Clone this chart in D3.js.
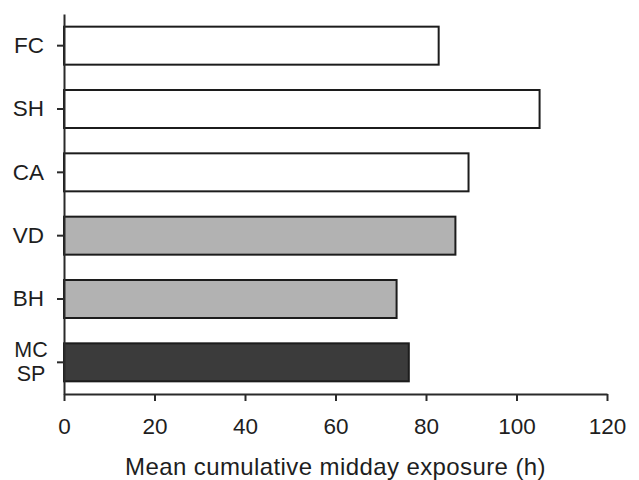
<!DOCTYPE html>
<html>
<head>
<meta charset="utf-8">
<script src="https://cdn.jsdelivr.net/npm/d3@7"></script>
<style>
    body { margin: 0; background: #fff; }
    .chart text { font-family: "Liberation Sans", Arial, Helvetica, sans-serif; fill: #1e1e1e; }
</style>
</head>
<body>
<div id="chart"></div>
<script>
// site codes, bottom group is a two-line label
var sites = ["FC", "SH", "CA", "VD", "BH", "MC\nSP"];
var exposure = [82.8, 105.1, 89.4, 86.5, 73.5, 76.2];
var groups = ["open", "open", "open", "mid", "mid", "dark"];
var xTicks = [0, 20, 40, 60, 80, 100, 120];
var xTitle = "Mean cumulative midday exposure (h)";

(function () {
    'use strict';
    var width = 639, height = 480,
        margin = {top: 14, right: 32, bottom: 86, left: 64},
        w = width - margin.left - margin.right,
        h = height - margin.top - margin.bottom,
        fills = {open: "#ffffff", mid: "#b2b2b2", dark: "#3b3b3b"},
        data, svg, g, x, y, xAxis, yAxis;

    data = sites.map(function (s, i) {
        return {site: s, value: exposure[i], group: groups[i]};
    });

    svg = d3.select("#chart").append("svg")
        .attr("class", "chart")
        .attr("width", width)
        .attr("height", height);

    g = svg.append("g")
        .attr("transform", "translate(" + margin.left + "," + margin.top + ")");

    x = d3.scaleLinear().domain([0, 120]).range([0, w]);
    y = d3.scaleBand().domain(sites).range([0, h])
        .paddingInner(0.4).paddingOuter(0.2);

    g.selectAll("rect.bar")
        .data(data)
        .enter()
        .append("rect")
        .attr("class", "bar")
        .attr("x", x(0))
        .attr("y", function (d) { return y(d.site); })
        .attr("width", function (d) { return x(d.value) - x(0); })
        .attr("height", y.bandwidth())
        .attr("fill", function (d) { return fills[d.group]; })
        .attr("stroke", "#1c1c1c")
        .attr("stroke-width", 2);

    xAxis = g.append("g")
        .attr("transform", "translate(0," + h + ")")
        .call(d3.axisBottom(x).tickValues(xTicks).tickSize(7)
            .tickSizeOuter(0).tickPadding(17));

    yAxis = g.append("g")
        .call(d3.axisLeft(y).tickSize(7).tickSizeOuter(0).tickPadding(13));

    [xAxis, yAxis].forEach(function (a) {
        a.select(".domain").attr("stroke", "#2a2a2a").attr("stroke-width", 2);
        a.selectAll(".tick line").attr("stroke", "#2a2a2a").attr("stroke-width", 2);
        a.selectAll(".tick text")
            .attr("font-size", 22.5)
            .attr("fill", "#1e1e1e")
            .style("font-family", "'Liberation Sans', Arial, sans-serif");
    });

    // the two-line label: two separate stacked texts, centred
    yAxis.selectAll(".tick").each(function (d) {
        var lines = d.split("\n"), tick = d3.select(this);
        if (lines.length < 2) { return; }
        tick.select("text").remove();
        lines.forEach(function (l, i) {
            tick.append("text")
                .attr("x", -33)
                .attr("y", (i - (lines.length - 1) / 2) * 24 - 1)
                .attr("dy", "0.36em")
                .attr("text-anchor", "middle")
                .attr("font-size", 21.5)
                .attr("fill", "#1e1e1e")
                .text(l);
        });
    });

    svg.append("text")
        .attr("x", margin.left + (w / 2))
        .attr("y", 475)
        .attr("text-anchor", "middle")
        .attr("font-size", 24)
        .attr("letter-spacing", 0.4)
        .text(xTitle);
}());
</script>
</body>
</html>
